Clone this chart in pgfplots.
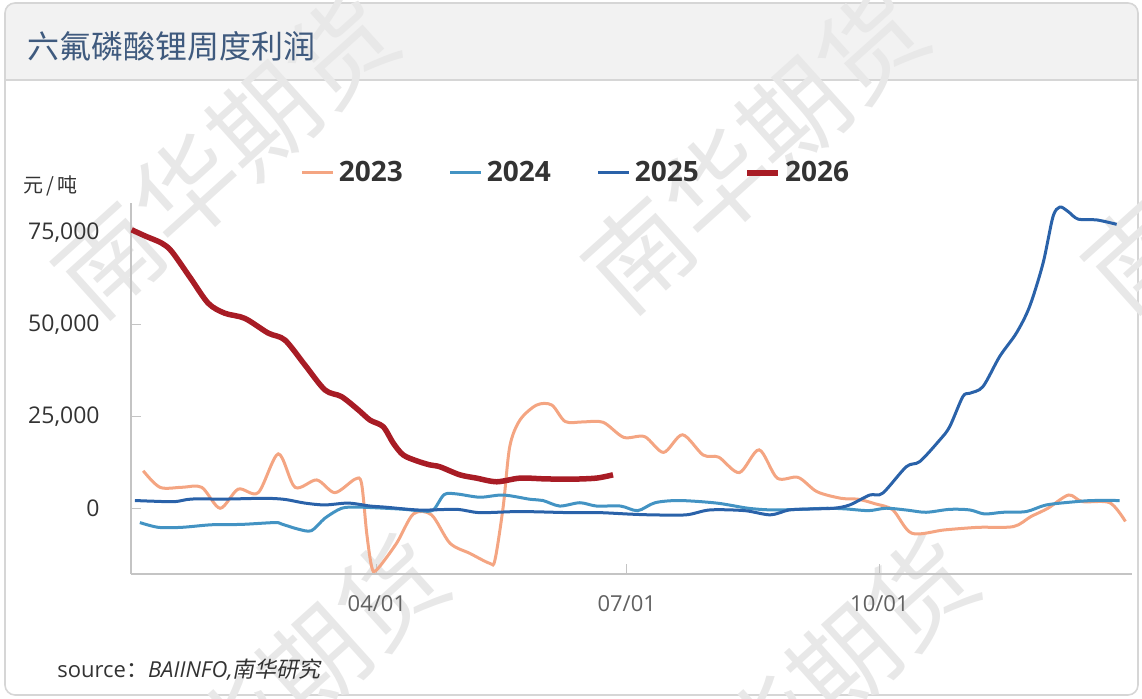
\documentclass[border=0pt]{standalone}
\usepackage{fontspec}
\setmainfont{Open Sans}
\newfontfamily\cjk{Noto Sans CJK SC}
\newfontfamily\cjkit[FakeSlant=0.2]{Noto Sans CJK SC}
\usepackage{pgfplots}
\pgfplotsset{compat=1.18}
\definecolor{c23}{HTML}{F4A582}
\definecolor{c24}{HTML}{4393C3}
\definecolor{c25}{HTML}{2A62A9}
\definecolor{c26}{HTML}{A81C25}
\definecolor{ttl}{HTML}{3F5A7E}
\definecolor{txt}{HTML}{333333}
\definecolor{hdr}{HTML}{F2F2F2}
\definecolor{frm}{HTML}{D6D6D6}
\definecolor{axc}{HTML}{C4C4C4}
\definecolor{wm}{HTML}{E8E8E8}
\begin{document}
\begin{tikzpicture}[x=0.5pt,y=0.5pt]
\useasboundingbox (0,0) rectangle (1142,699);
% header and frame
\begin{scope}
\clip[rounded corners=5pt] (5,4) rectangle (1138,696);
\fill[hdr] (5,619) rectangle (1138,696);
\end{scope}
\draw[frm,line width=0.8pt] (5,619) -- (1138,619);
\draw[frm,line width=0.8pt,rounded corners=5pt] (5,4) rectangle (1138,696);
% watermarks
\begin{scope}
\clip (0,0) rectangle (1142,699);
\foreach \cx/\cy in {225/544, 755/549, 1255/549, 275/2, 805/2}{
  \node[rotate=42,text=wm,font=\cjk\fontsize{52pt}{52pt}\selectfont] at (\cx,\cy) {南华期货};
}
\end{scope}
\node[anchor=west,text=ttl,font=\cjk\fontsize{16pt}{16pt}\selectfont,inner sep=0pt] at (27,653) {六氟磷酸锂周度利润};
\node[anchor=west,text=txt,font=\cjk\fontsize{10pt}{10pt}\selectfont,inner sep=0pt] at (23,513) {元\,/\,吨};
\node[anchor=west,text=txt,font=\fontsize{11pt}{11pt}\selectfont,inner sep=0pt] at (57,29) {source{\cjk ：}\itshape BAIINFO,{\cjkit 南华研究}};
\begin{axis}[
  at={(65.5pt,62.5pt)}, anchor=south west,
  scale only axis, width=500.5pt, height=185.5pt,
  xmin=1.46, xmax=366, ymin=-17900, ymax=83100,
  axis x line*=bottom, axis y line*=left,
  axis line style={draw=axc,line width=0.8pt,-},
  xtick={91,182,274}, xticklabels={04/01,07/01,10/01},
  ytick={0,25000,50000,75000},
  tick align=inside, major tick length=5pt,
  tick style={draw=axc,line width=0.6pt},
  /pgf/number format/assume math mode=true,
  /pgf/number format/1000 sep={,},
  scaled y ticks=false,
  yticklabel style={inner sep=0pt,xshift=-15.5pt,text=txt,font=\fontsize{11.5pt}{11.5pt}\selectfont},
  xticklabel style={inner sep=0pt,yshift=-10.5pt,text=black!62,font=\fontsize{11pt}{11pt}\selectfont},
  legend columns=4,
  legend style={draw=none,fill=none,at={(0.4456,1.081)},anchor=center,
    font=\bfseries\fontsize{14pt}{14pt}\selectfont,text=txt,
    /tikz/every even column/.append style={column sep=21pt}},
  legend image code/.code={\draw[#1] (0pt,0pt) -- (15.5pt,0pt);},
  clip=true,
]
\addplot[c23,line width=1.5pt,smooth,tension=0.5] coordinates {
(5.9,10200) (12,5700) (20,5700) (27.2,5700) (33.9,0) (40.5,5200) (47.8,4250) (55.1,14800) (61.2,5700) (69.1,7700) (75.7,4250) (83,7900) (85.4,6800) (87.3,-6800) (89.1,-15900) (90.9,-16800) (98.2,-9500) (104.3,-1550) (110.9,-1800) (117.6,-9500) (124.9,-12300) (132.1,-15000) (134,-14100) (137,400) (139.4,16800) (143.1,24000) (149.2,28100) (154.7,28100) (159.6,23600) (166,23500) (173.4,23400) (180.9,19300) (188.5,19500) (195.4,15200) (202.3,20000) (209.8,14500) (215.5,13900) (223,9700) (230.2,15900) (236.8,8200) (244.4,8400) (251.3,4500) (260.1,2700) (266.3,2450) (272.5,1200) (278.9,-460) (285.8,-6800) (297.7,-5900) (310,-5200) (322.8,-5000) (329.1,-2300) (335.4,0) (342.9,3600) (347.9,1800) (357.9,1500) (363.6,-3600)
};
\addlegendentry{2023}
\addplot[c24,line width=1.5pt,smooth,tension=0.5] coordinates {
(4.7,-3900) (11.4,-5200) (19.9,-5200) (30.8,-4500) (41.7,-4400) (53.9,-3900) (56.3,-4300) (62.4,-5700) (67.2,-6100) (72.1,-2700) (78.2,0) (84.2,300) (94,0) (101,-300) (107,-700) (111.5,-500) (115.5,3700) (120,3900) (128.5,3000) (137,3600) (146.7,2450) (151.5,2100) (157.6,600) (164.9,1500) (171,600) (179.7,600) (186,-650) (192.3,1500) (201.1,2100) (214.8,1400) (226.2,0) (234.9,-460) (245,-300) (255,0) (262,-200) (270.1,-650) (276.5,0) (284,-500) (291,-1100) (299.6,-300) (306.9,-460) (312.3,-1550) (319,-1100) (327.5,-900) (334.8,900) (345.7,1800) (351.8,2100) (361.5,2100)
};
\addlegendentry{2024}
\addplot[c25,line width=1.5pt,smooth,tension=0.5] coordinates {
(2.9,2100) (10,1900) (17.5,1800) (23.5,2500) (35.7,2500) (50.2,2700) (57.5,2400) (64.8,1400) (72.1,900) (80.6,1400) (88.5,600) (94,300) (106.7,-500) (120,-300) (128.5,-1200) (143.1,-900) (161.3,-1200) (172.2,-1200) (183.1,-1600) (191,-1800) (203.6,-1800) (212.3,-460) (224.9,-650) (234.3,-1800) (241.2,-460) (249,-200) (257.5,0) (263.2,900) (270.5,3600) (275.2,4100) (283.8,11300) (288.7,12700) (296,18600) (299.6,22200) (304.4,30400) (306.9,31300) (311.7,33100) (317.8,41300) (323.9,47700) (328.7,54900) (333.6,66700) (337.2,79300) (339.7,82000) (342.7,80800) (346.4,78700) (353.1,78500) (360.4,77300)
};
\addlegendentry{2025}
\addplot[c26,line width=2.75pt,smooth,tension=0.5] coordinates {
(1.7,75800) (7,74000) (12.6,72200) (16.3,69900) (23,62800) (29.6,55800) (35.6,53100) (42.9,51700) (51.4,47700) (57.5,45800) (64.8,39000) (72.1,32200) (78.1,30400) (84.2,26800) (88.5,24000) (93.3,22200) (97,17700) (100.6,14500) (105.5,12900) (110.3,11800) (113.9,11300) (121.2,9100) (127.3,8200) (134.6,7200) (143.1,8200) (152,8000) (161.3,7900) (170.9,8200) (177,9100)
};
\addlegendentry{2026}
\end{axis}
\end{tikzpicture}
\end{document}
